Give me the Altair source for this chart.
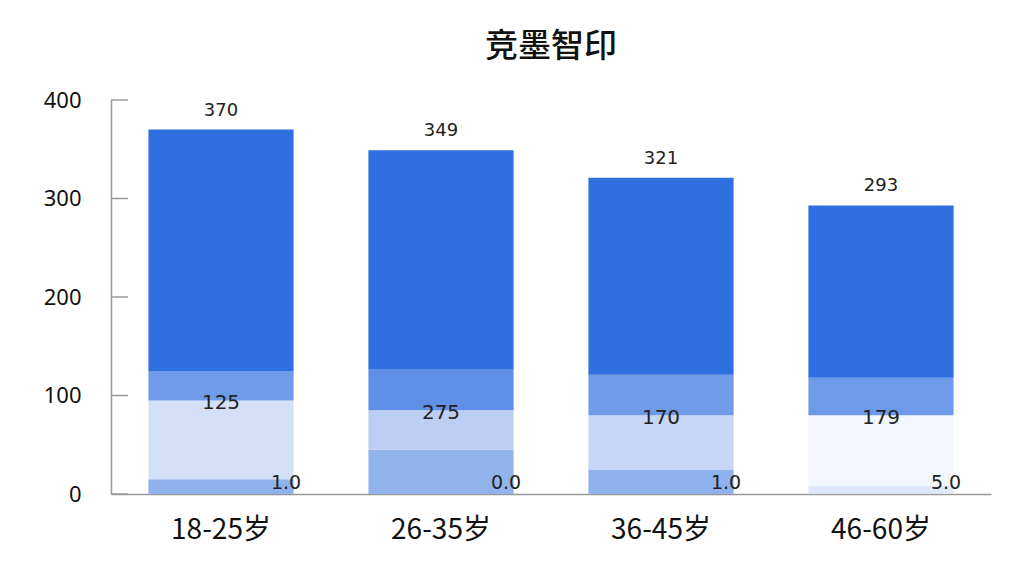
import altair as alt
import pandas as pd

categories = ["18-25岁", "26-35岁", "36-45岁", "46-60岁"]
# stacked segment tops (cumulative values)
base_top = [15, 45, 25, 8]        # bottom band
light_top = [95, 85, 80, 80]      # pale band
mid_top = [125, 127, 121, 118]    # transition band
totals = [370, 349, 321, 293]     # dark top segment ends at total
top_labels = ["370", "349", "321", "293"]
mid_labels = ["125", "275", "170", "179"]
bottom_labels = ["1.0", "0.0", "1.0", "5.0"]
y_ticks = [0, 100, 200, 300, 400]

seg_colors = {
    "base": ["#8fb1ec", "#93b3ec", "#8fb1ec", "#dfe8f8"],
    "light": ["#d3e0f7", "#bccff3", "#c6d6f5", "#f3f6fc"],
    "mid": ["#6f9be9", "#5f8fe7", "#6f9be9", "#6d9ae9"],
    "dark": ["#2f6fe0", "#2f6fe0", "#2f6fe0", "#2f6fe0"],
}

rows = []
for i, c in enumerate(categories):
    bounds = [("base", 0, base_top[i]), ("light", base_top[i], light_top[i]),
              ("mid", light_top[i], mid_top[i]), ("dark", mid_top[i], totals[i])]
    for name, s, e in bounds:
        rows.append({"cat": c, "seg": name, "start": s, "end": e, "color": seg_colors[name][i]})
seg_df = pd.DataFrame(rows)

lab_df = pd.DataFrame({
    "cat": categories, "total": totals, "top": top_labels,
    "mid": mid_labels, "midpos": light_top, "bot": bottom_labels,
    "zero": [0, 0, 0, 0],
})
tick_df = pd.DataFrame({"v": y_ticks})

x_enc = alt.X("cat:N", sort=categories, title=None,
              scale=alt.Scale(paddingInner=0.34, paddingOuter=0.17),
              axis=alt.Axis(labelFontSize=28, labelColor="#111", labelFont="Noto Sans CJK SC",
                            labelPadding=22, labelAngle=0, domainColor="#999", domainWidth=1.5,
                            ticks=False))
y_scale = alt.Scale(domain=[0, 400], nice=False)

bars = alt.Chart(seg_df).mark_bar().encode(
    x=x_enc,
    y=alt.Y("start:Q", scale=y_scale, title=None,
            axis=alt.Axis(values=y_ticks, grid=False, tickSize=0, labelPadding=30,
                          labelFontSize=22, labelColor="#111", labelFont="Noto Sans",
                          domainColor="#999", domainWidth=1.5)),
    y2="end:Q",
    color=alt.Color("color:N", scale=None),
)

ticks = alt.Chart(tick_df).mark_rule(color="#999", strokeWidth=1.5).encode(
    y=alt.Y("v:Q", scale=y_scale),
    x=alt.value(0), x2=alt.value(17),
)

top_text = alt.Chart(lab_df).mark_text(baseline="bottom", dy=-10, fontSize=18,
                                       font="DejaVu Sans", color="#222").encode(
    x=alt.X("cat:N", sort=categories), y=alt.Y("total:Q", scale=y_scale), text="top:N")

mid_text = alt.Chart(lab_df).mark_text(baseline="middle", dy=3, fontSize=20,
                                       font="DejaVu Sans", color="#222").encode(
    x=alt.X("cat:N", sort=categories), y=alt.Y("midpos:Q", scale=y_scale), text="mid:N")

bot_text = alt.Chart(lab_df).mark_text(baseline="bottom", dx=65, dy=-1, fontSize=19,
                                       font="DejaVu Sans", color="#222").encode(
    x=alt.X("cat:N", sort=categories), y=alt.Y("zero:Q", scale=y_scale), text="bot:N")

chart = alt.layer(bars, ticks, top_text, mid_text, bot_text).properties(
    width=880, height=394,
    background="white",
    title=alt.TitleParams("竞墨智印", fontSize=33, font="Noto Sans CJK SC", fontWeight=500,
                          color="#111", offset=25, anchor="middle"),
    autosize=alt.AutoSizeParams(type="none"),
    padding={"left": 103, "top": 92, "right": 25, "bottom": 74},
).configure_view(stroke=None)

chart.save("out.html", embed_options={"renderer": "svg", "actions": False})
